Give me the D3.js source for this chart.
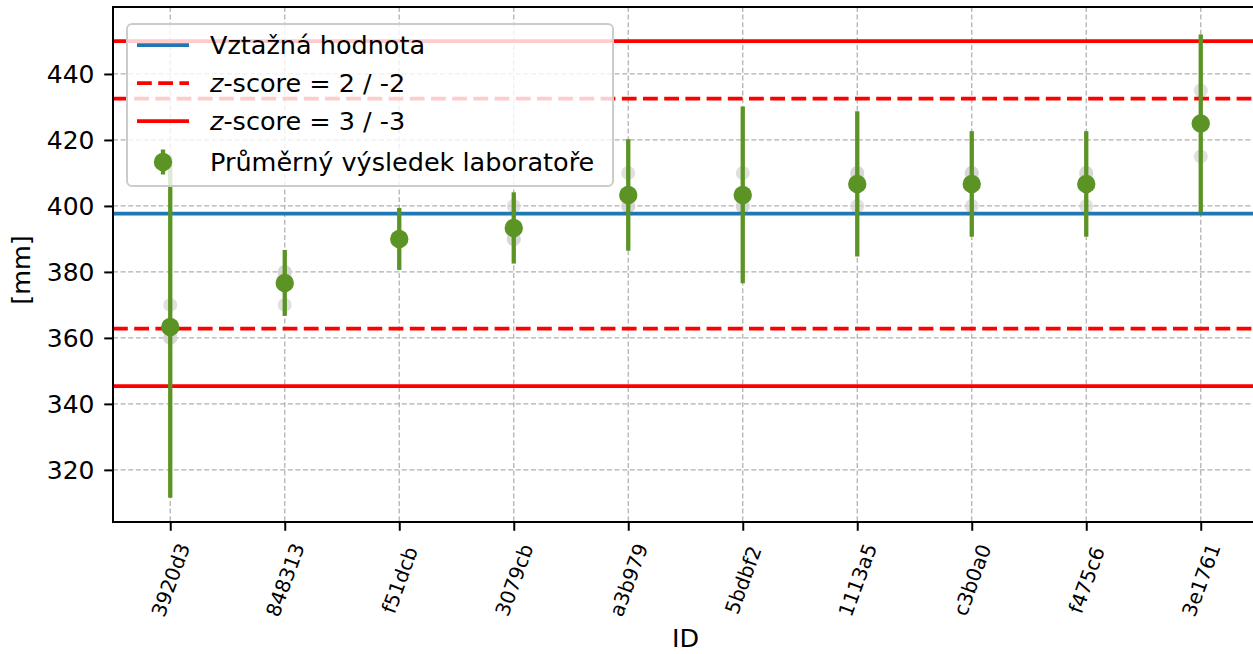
<!DOCTYPE html>
<html>
<head>
<meta charset="utf-8">
<script src="https://cdn.jsdelivr.net/npm/d3@7"></script>
<style>
  body { margin: 0; background: #fff; }
  svg { display: block; font-family: "DejaVu Sans", sans-serif; }
</style>
</head>
<body>
<div id="chart"></div>
<script>
const labIds = ['3920d3', '848313', 'f51dcb', '3079cb', 'a3b979', '5bdbf2', '1113a5', 'c3b0a0', 'f475c6', '3e1761'];
// single results of each lab (grey points)
const replicates = [
  [360, 360, 370],
  [370, 380, 380],
  [390, 390, 390],
  [390, 390, 400],
  [400, 400, 410],
  [400, 400, 410],
  [400, 410, 410],
  [400, 410, 410],
  [400, 410, 410],
  [415, 425, 435]
];
const labMeans = [363.33, 376.67, 390.0, 393.33, 403.33, 403.33, 406.67, 406.67, 406.67, 425.0];
const labErrors = [51.8, 10.0, 9.4, 10.8, 16.9, 26.8, 22.0, 16.0, 16.0, 27.0];
const refValue = 397.67;
const sigma = 17.44;
const yTicks = [320, 340, 360, 380, 400, 420, 440];

const width = 1253, height = 654;
const margin = { left: 113, top: 7, right: -5, bottom: 132 };
const plotRight = width - margin.right;
const plotBottom = height - margin.bottom;

const green = '#5b9424';
const blue = '#1f77b4';
const red = '#ff0000';
const dashed = '14.8,6.4';

const svg = d3.select('#chart').append('svg')
  .attr('width', width)
  .attr('height', height);

const x = d3.scalePoint()
  .domain(labIds)
  .range([margin.left, plotRight])
  .padding(0.5);

const y = d3.scaleLinear()
  .domain([304.2, 460.3])
  .range([plotBottom, margin.top]);

// grid
const grid = svg.append('g')
  .attr('stroke', '#b0b0b0')
  .attr('stroke-width', 1.25)
  .attr('stroke-dasharray', '5,2.6');
grid.selectAll('line.gy').data(yTicks).enter().append('line')
  .attr('x1', margin.left).attr('x2', plotRight)
  .attr('y1', d => y(d)).attr('y2', d => y(d));
grid.selectAll('line.gx').data(labIds).enter().append('line')
  .attr('x1', d => x(d)).attr('x2', d => x(d))
  .attr('y1', margin.top).attr('y2', plotBottom);

// grey single results
const pts = [];
replicates.forEach((vals, i) => vals.forEach(v => pts.push({ id: labIds[i], v: v })));
svg.append('g').selectAll('circle').data(pts).enter().append('circle')
  .attr('cx', d => x(d.id))
  .attr('cy', d => y(d.v))
  .attr('r', 7)
  .attr('fill', '#d3d3d3')
  .attr('fill-opacity', 0.7);

// reference + z-score limits
const limits = [
  { v: refValue, color: blue, dash: null },
  { v: refValue + 2 * sigma, color: red, dash: dashed },
  { v: refValue - 2 * sigma, color: red, dash: dashed },
  { v: refValue + 3 * sigma, color: red, dash: null },
  { v: refValue - 3 * sigma, color: red, dash: null }
];
svg.append('g').selectAll('line').data(limits).enter().append('line')
  .attr('x1', margin.left).attr('x2', plotRight)
  .attr('y1', d => y(d.v)).attr('y2', d => y(d.v))
  .attr('stroke', d => d.color)
  .attr('stroke-width', 3.75)
  .attr('stroke-dasharray', d => d.dash);

// error bars + means
const labs = labIds.map((id, i) => ({ id: id, m: labMeans[i], e: labErrors[i] }));
svg.append('g').selectAll('line').data(labs).enter().append('line')
  .attr('x1', d => x(d.id)).attr('x2', d => x(d.id))
  .attr('y1', d => y(d.m - d.e)).attr('y2', d => y(d.m + d.e))
  .attr('stroke', green)
  .attr('stroke-width', 4.3);
svg.append('g').selectAll('circle').data(labs).enter().append('circle')
  .attr('cx', d => x(d.id))
  .attr('cy', d => y(d.m))
  .attr('r', 9.2)
  .attr('fill', green);

// axes
const yAxis = svg.append('g')
  .attr('transform', `translate(${margin.left},0)`)
  .call(d3.axisLeft(y).tickValues(yTicks).tickSize(8.75).tickPadding(8));
const xAxis = svg.append('g')
  .attr('transform', `translate(0,${plotBottom})`)
  .call(d3.axisBottom(x).tickSize(8.75).tickPadding(8));

[yAxis, xAxis].forEach(a => {
  a.select('.domain').remove();
  a.selectAll('.tick line').attr('stroke', '#000').attr('stroke-width', 2);
  a.selectAll('.tick text').attr('fill', '#000')
    .attr('font-family', '"DejaVu Sans", sans-serif');
});
yAxis.selectAll('.tick text')
  .attr('font-size', 25)
  .attr('x', -18.5)
  .attr('dy', '0.33em');
xAxis.selectAll('.tick text')
  .attr('font-size', 20)
  .attr('text-anchor', 'middle')
  .attr('dy', '0.35em')
  .attr('y', 0)
  .attr('transform', 'translate(0,58) rotate(-70)');

// spines
svg.append('rect')
  .attr('x', margin.left).attr('y', margin.top)
  .attr('width', plotRight - margin.left).attr('height', plotBottom - margin.top)
  .attr('fill', 'none')
  .attr('stroke', '#000')
  .attr('stroke-width', 2);

// axis labels
svg.append('text')
  .attr('transform', 'translate(30,270) rotate(-90)')
  .attr('text-anchor', 'middle')
  .attr('font-size', 25.5)
  .text('[mm]');
svg.append('text')
  .attr('x', (margin.left + plotRight) / 2)
  .attr('y', 647)
  .attr('text-anchor', 'middle')
  .attr('font-size', 25.5)
  .text('ID');

// legend
const legend = svg.append('g');
legend.append('rect')
  .attr('x', 127).attr('y', 24)
  .attr('width', 486).attr('height', 162)
  .attr('rx', 5)
  .attr('fill', '#fff')
  .attr('fill-opacity', 0.8)
  .attr('stroke', '#cccccc')
  .attr('stroke-width', 2);

const legendItems = [
  { type: 'line', color: blue, dash: null, label: ['Vztažná hodnota'] },
  { type: 'line', color: red, dash: dashed, label: ['z', '-score = 2 / -2'] },
  { type: 'line', color: red, dash: null, label: ['z', '-score = 3 / -3'] },
  { type: 'marker', color: green, label: ['Průměrný výsledek laboratoře'] }
];
const rowY = [45, 83, 121, 162];
legendItems.forEach((item, i) => {
  const g = legend.append('g').attr('transform', `translate(0,${rowY[i]})`);
  if (item.type === 'line') {
    g.append('line')
      .attr('x1', 137).attr('x2', 189)
      .attr('stroke', item.color)
      .attr('stroke-width', 3.75)
      .attr('stroke-dasharray', item.dash);
  } else {
    g.append('line')
      .attr('x1', 163).attr('x2', 163)
      .attr('y1', -12.5).attr('y2', 12.5)
      .attr('stroke', item.color)
      .attr('stroke-width', 4.3);
    g.append('circle').attr('cx', 163).attr('r', 9.2).attr('fill', item.color);
  }
  const t = g.append('text')
    .attr('x', 210)
    .attr('dy', '0.36em')
    .attr('font-size', 25.5);
  if (item.label.length === 2) {
    t.append('tspan').attr('font-style', 'italic').text(item.label[0]);
    t.append('tspan').text(item.label[1]);
  } else {
    t.text(item.label[0]);
  }
});
</script>
</body>
</html>
